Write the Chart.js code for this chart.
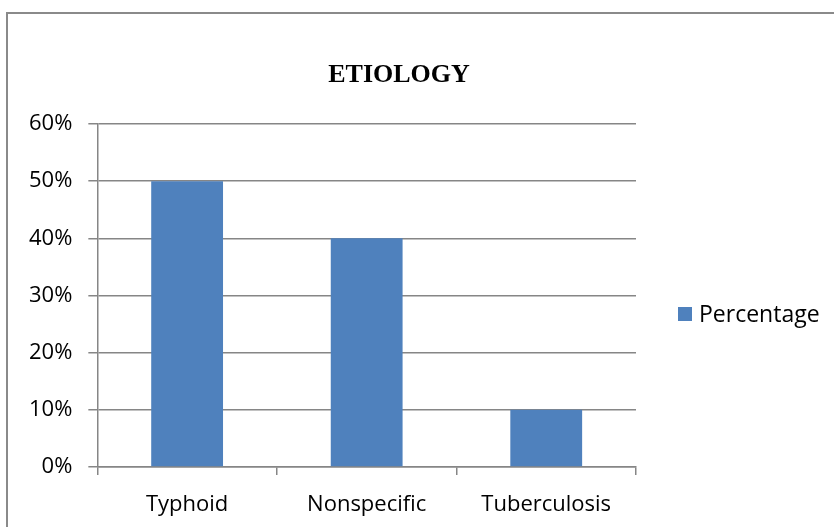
<!DOCTYPE html>
<html>
<head>
<meta charset="utf-8">
<script src="https://cdn.jsdelivr.net/npm/chart.js@4/dist/chart.umd.min.js"></script>
<style>
  html, body { margin: 0; padding: 0; background: #fff; }
  #wrap { position: relative; width: 834px; height: 527px; }
  #frame { position: absolute; left: 6px; top: 12px; width: 840px; height: 530px;
           border-left: 2px solid #8a8a8a; border-top: 2px solid #8a8a8a; box-sizing: border-box; }
  canvas { position: absolute; left: 0; top: 0; }
</style>
</head>
<body>
<div id="wrap">
  <div id="frame"></div>
  <canvas id="myChart" width="834" height="527"></canvas>
</div>
<script>
const categories = ["Typhoid", "Nonspecific", "Tuberculosis"];
const percentage = [50, 40, 10];
const yTicks = [0, 10, 20, 30, 40, 50, 60];
const chartTitle = "ETIOLOGY";

const FONT = "'Open Sans', sans-serif";
const GRID = "#868686";

// title drawn at a fixed centre, like the original Excel chart
const titlePlugin = {
  id: "fixedTitle",
  afterDraw(chart) {
    const ctx = chart.ctx;
    ctx.save();
    ctx.font = "bold 26px 'Liberation Serif', 'Times New Roman', serif";
    ctx.fillStyle = "#000";
    ctx.textAlign = "center";
    ctx.textBaseline = "middle";
    ctx.fillText(chartTitle, 399, 75);
    ctx.restore();
  },
};

// legend to the right of the plot, drawn from the datasets
const sideLegend = {
  id: "sideLegend",
  afterDraw(chart) {
    const ctx = chart.ctx;
    const x = chart.chartArea.right + 42;
    const y = 315;
    ctx.save();
    chart.data.datasets.forEach((ds, i) => {
      const yy = y + i * 30;
      ctx.fillStyle = ds.backgroundColor;
      ctx.fillRect(x, yy - 8, 14, 14);
      ctx.fillStyle = "#000";
      ctx.font = "23px " + FONT;
      ctx.textBaseline = "middle";
      ctx.fillText(ds.label, x + 21, yy);
    });
    ctx.restore();
  },
};

const data = {
  labels: categories,
  datasets: [
    {
      label: "Percentage",
      backgroundColor: "#4F81BD",
      borderWidth: 0,
      data: percentage,
      barPercentage: 0.4,
      categoryPercentage: 1.0,
    },
  ],
};

const config = {
  type: "bar",
  data: data,
  options: {
    responsive: false,
    animation: false,
    layout: { padding: { top: 124, left: 13, right: 198, bottom: 0 } },
    plugins: {
      title: { display: false },
      legend: { display: false },
      tooltip: { enabled: false },
    },
    scales: {
      x: {
        grid: {
          offset: true,
          drawOnChartArea: false,
          drawTicks: true,
          tickLength: 8,
          color: GRID,
          lineWidth: 1.5,
        },
        border: { color: GRID, width: 1.5 },
        ticks: {
          color: "#000",
          padding: 17,
          font: { family: FONT, size: 22 },
        },
        afterFit(scale) {
          scale.height = 60;
        },
      },
      y: {
        min: 0,
        max: 60,
        afterBuildTicks(axis) {
          axis.ticks = yTicks.map((v) => ({ value: v }));
        },
        grid: {
          color: GRID,
          lineWidth: 1.5,
          tickLength: 9,
        },
        border: { color: GRID, width: 1.5 },
        ticks: {
          color: "#000",
          padding: 16,
          font: { family: FONT, size: 22 },
          callback: (v) => v + "%",
        },
      },
    },
  },
  plugins: [titlePlugin, sideLegend],
};

const myChart = new Chart(document.getElementById("myChart"), config);
</script>
</body>
</html>
